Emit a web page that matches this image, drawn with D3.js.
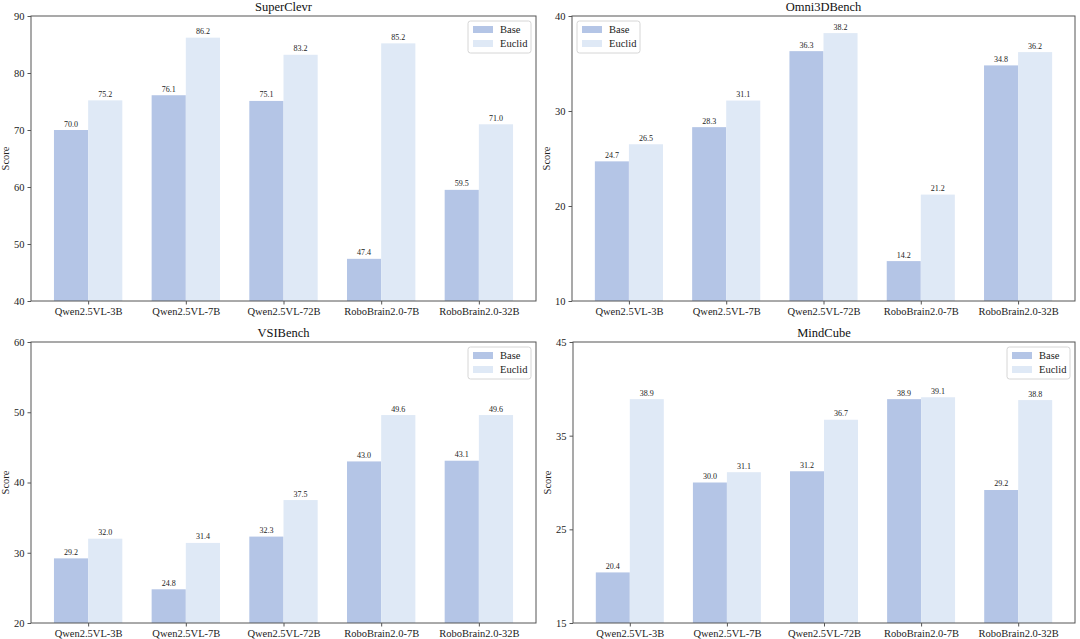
<!DOCTYPE html>
<html>
<head>
<meta charset="utf-8">
<script src="https://cdn.jsdelivr.net/npm/d3@7"></script>
<style>
  body { margin: 0; background: #fff; }
  svg, svg text { font-family: "Liberation Serif", "Times New Roman", serif; }
</style>
</head>
<body>
<div id="chart"></div>
<script>
// categories shared by all four panels
const models = ["Qwen2.5VL-3B", "Qwen2.5VL-7B", "Qwen2.5VL-72B", "RoboBrain2.0-7B", "RoboBrain2.0-32B"];
const seriesNames = ["Base", "Euclid"];

// scores
const superClevrBase = [70.0, 76.1, 75.1, 47.4, 59.5];
const superClevrEuclid = [75.2, 86.2, 83.2, 85.2, 71.0];
const omni3dBase = [24.7, 28.3, 36.3, 14.2, 34.8];
const omni3dEuclid = [26.5, 31.1, 38.2, 21.2, 36.2];
const vsiBase = [29.2, 24.8, 32.3, 43.0, 43.1];
const vsiEuclid = [32.0, 31.4, 37.5, 49.6, 49.6];
const mindCubeBase = [20.4, 30.0, 31.2, 38.9, 29.2];
const mindCubeEuclid = [38.9, 31.1, 36.7, 39.1, 38.8];

// y ticks per panel
const superClevrTicks = [40, 50, 60, 70, 80, 90];
const omni3dTicks = [10, 20, 30, 40];
const vsiTicks = [20, 30, 40, 50, 60];
const mindCubeTicks = [15, 25, 35, 45];

const W = 1080, H = 639;
const colors = ["#b4c5e6", "#dfe9f6"];

const svg = d3.select("#chart").append("svg")
    .attr("width", W)
    .attr("height", H);

const panels = [
  { title: "SuperClevr", base: superClevrBase, euclid: superClevrEuclid, ticks: superClevrTicks,
    box: [31, 16, 536, 301], legend: "right" },
  { title: "Omni3DBench", base: omni3dBase, euclid: omni3dEuclid, ticks: omni3dTicks,
    box: [572, 16, 1075, 301], legend: "left" },
  { title: "VSIBench", base: vsiBase, euclid: vsiEuclid, ticks: vsiTicks,
    box: [31, 342, 536, 623], legend: "right" },
  { title: "MindCube", base: mindCubeBase, euclid: mindCubeEuclid, ticks: mindCubeTicks,
    box: [573, 342, 1075, 623], legend: "right" }
];

const barW = 0.35;

panels.forEach(p => {
  const [x0, y0, x1, y1] = p.box;
  const g = svg.append("g");

  const x = d3.scaleLinear()
      .domain([-barW - 0.235, models.length - 1 + barW + 0.235])
      .range([x0, x1]);
  const y = d3.scaleLinear()
      .domain(d3.extent(p.ticks))
      .range([y1, y0]);

  const rows = models.map((m, i) => ({ i, m, vals: [p.base[i], p.euclid[i]] }));

  // bars
  rows.forEach(r => {
    r.vals.forEach((v, k) => {
      const left = k === 0 ? x(r.i - barW) : x(r.i);
      const right = k === 0 ? x(r.i) : x(r.i + barW);
      g.append("rect")
          .attr("x", left)
          .attr("y", y(v))
          .attr("width", right - left)
          .attr("height", y1 - y(v))
          .attr("fill", colors[k]);
      g.append("text")
          .attr("x", (left + right) / 2)
          .attr("y", y(v) - 3.5)
          .attr("text-anchor", "middle")
          .style("font-size", "8px")
          .attr("fill", "#222")
          .text(v.toFixed(1));
    });
  });

  // frame
  g.append("rect")
      .attr("x", x0).attr("y", y0)
      .attr("width", x1 - x0).attr("height", y1 - y0)
      .attr("fill", "none")
      .attr("stroke", "#555")
      .attr("stroke-width", 1);

  // y axis
  const yAxis = g.append("g")
      .attr("transform", `translate(${x0},0)`)
      .call(d3.axisLeft(y).tickValues(p.ticks).tickSize(3.5).tickPadding(3).tickFormat(d3.format("d")))
      .attr("font-family", null).attr("font-size", null);
  yAxis.select(".domain").remove();
  yAxis.selectAll("line").attr("stroke", "#555");
  yAxis.selectAll("text").style("font-size", "10.5px").attr("fill", "#222");

  // x axis
  const xAxis = g.append("g")
      .attr("transform", `translate(0,${y1})`)
      .call(d3.axisBottom(x).tickValues(d3.range(models.length)).tickSize(3.5).tickPadding(3)
        .tickFormat(i => models[i]))
      .attr("font-family", null).attr("font-size", null);
  xAxis.select(".domain").remove();
  xAxis.selectAll("line").attr("stroke", "#555");
  xAxis.selectAll("text").style("font-size", "10.5px").attr("fill", "#222");

  // title
  g.append("text")
      .attr("x", (x0 + x1) / 2)
      .attr("y", y0 - 5)
      .attr("text-anchor", "middle")
      .style("font-size", "12.5px")
      .attr("fill", "#111")
      .text(p.title);

  // y label
  g.append("text")
      .attr("transform", `translate(${x0 - 22},${(y0 + y1) / 2}) rotate(-90)`)
      .attr("text-anchor", "middle")
      .style("font-size", "10.5px")
      .attr("fill", "#222")
      .text("Score");

  // legend
  const lw = 63, lh = 32;
  const lx = p.legend === "right" ? x1 - 5 - lw : x0 + 5;
  const ly = y0 + 5;
  const lg = g.append("g").attr("transform", `translate(${lx},${ly})`);
  lg.append("rect")
      .attr("width", lw).attr("height", lh)
      .attr("rx", 2.5)
      .attr("fill", "#fff").attr("fill-opacity", 0.8)
      .attr("stroke", "#d6d6d6");
  seriesNames.forEach((s, k) => {
    lg.append("rect")
        .attr("x", 5).attr("y", 5 + k * 14)
        .attr("width", 20).attr("height", 7)
        .attr("fill", colors[k]);
    lg.append("text")
        .attr("x", 32).attr("y", 12 + k * 14)
        .style("font-size", "10.5px")
        .attr("fill", "#222")
        .text(s);
  });
});
</script>
</body>
</html>
